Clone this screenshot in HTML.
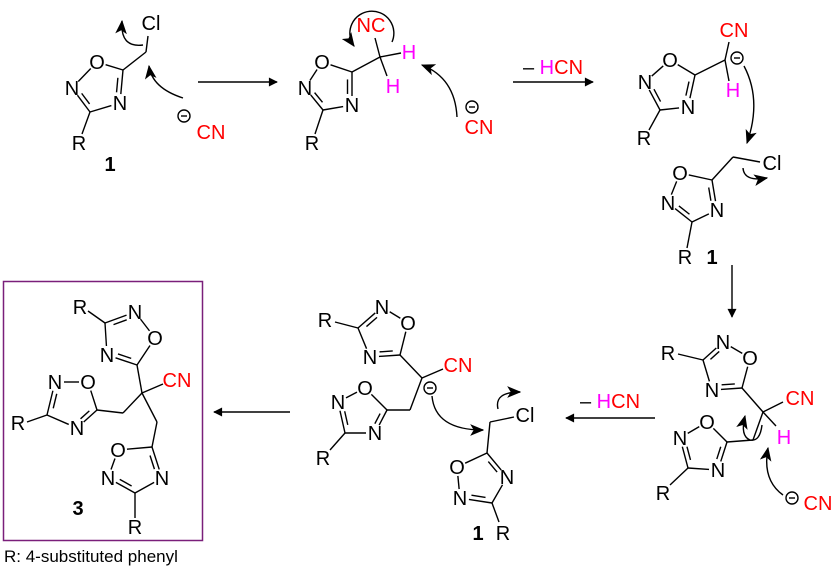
<!DOCTYPE html>
<html><head><meta charset="utf-8">
<style>
html,body{margin:0;padding:0;background:#fff;}
svg{display:block;}
text{font-family:"Liberation Sans",Arial,sans-serif;font-size:20px;text-anchor:middle;}
.a{fill:#000;}
.r{fill:#f00;}
.m{fill:#f0f;}
.b{font-weight:bold;}
</style></head>
<body>
<svg id="s" width="834" height="582" viewBox="0 0 834 582" xmlns="http://www.w3.org/2000/svg">
<defs>
<marker id="ah" viewBox="0 0 10 10" refX="9" refY="5" markerWidth="10" markerHeight="9" markerUnits="userSpaceOnUse" orient="auto"><path d="M0,0 L10,5 L0,10 z" fill="#000"/></marker>
<marker id="ch" viewBox="0 0 12 10" refX="11" refY="5" markerWidth="14" markerHeight="12" markerUnits="userSpaceOnUse" orient="auto"><path d="M0,0 L12,5 L0,10 L3,5 z" fill="#000"/></marker>
</defs>
<g id="bonds" stroke="#000" stroke-width="1.4" fill="none"></g>
<g stroke="#000" stroke-width="1.4" fill="none">
<line x1="198" y1="82" x2="277" y2="82" marker-end="url(#ah)"/>
<line x1="513" y1="82" x2="593" y2="82" marker-end="url(#ah)"/>
<line x1="732" y1="265" x2="732" y2="317" marker-end="url(#ah)"/>
<line x1="655" y1="418" x2="566" y2="418" marker-end="url(#ah)"/>
<line x1="290" y1="412" x2="214" y2="412" marker-end="url(#ah)"/>
<path d="M183,98 Q152,88 149,66" marker-end="url(#ch)"/>
<path d="M143,45 Q120,48 122,21" marker-end="url(#ch)"/>
<path d="M392,42 A22,22 0 1 0 354,46" marker-end="url(#ch)"/>
<path d="M457,117 Q455,78 422,65" marker-end="url(#ch)"/>
<path d="M744,66 Q762,100 747,143" marker-end="url(#ch)"/>
<path d="M743,168 Q744,182 767,178" marker-end="url(#ch)"/>
<path d="M432,396 Q435,430 483,430" marker-end="url(#ch)"/>
<path d="M498,409 Q494,392 520,392" marker-end="url(#ch)"/>
<path d="M783,495 Q762,480 768,448" marker-end="url(#ch)"/>
<path d="M762,425 Q760,442 750,440 Q740,436 745,416" marker-end="url(#ch)"/>
<circle cx="184" cy="116" r="6"/><line x1="181" y1="116" x2="187" y2="116"/>
<circle cx="472" cy="107" r="6"/><line x1="469" y1="107" x2="475" y2="107"/>
<circle cx="737" cy="58" r="6"/><line x1="734" y1="58" x2="740" y2="58"/>
<circle cx="792" cy="498" r="6"/><line x1="789" y1="498" x2="795" y2="498"/>
<circle cx="430" cy="388" r="6"/><line x1="427" y1="388" x2="433" y2="388"/>
</g>
<rect x="3.5" y="281.5" width="199" height="259" fill="none" stroke="#7a1f7a" stroke-width="1.5"/>
<g id="labels">
<text class="a" x="97" y="69">O</text><text class="a" x="120" y="110">N</text><text class="a" x="72" y="95">N</text>
<text class="a" x="151" y="30">Cl</text><text class="a" x="79" y="150">R</text><text class="a b" x="110" y="171">1</text>
<text class="r" x="211" y="139">CN</text>
<text class="a" x="322" y="69">O</text><text class="a" x="352" y="112">N</text><text class="a" x="305" y="95">N</text>
<text class="a" x="312" y="150">R</text>
<text class="r" x="371" y="32">NC</text>
<text class="m" x="409" y="59">H</text><text class="m" x="393" y="93">H</text>
<text class="r" x="479" y="134">CN</text>
<text x="553" y="74"><tspan fill="#000">– </tspan><tspan fill="#f0f">H</tspan><tspan fill="#f00">CN</tspan></text>
<text class="a" x="670" y="67">O</text><text class="a" x="688" y="114">N</text><text class="a" x="645" y="89">N</text>
<text class="a" x="644" y="145">R</text>
<text class="r" x="734" y="37">CN</text><text class="m" x="733" y="97">H</text>
<text class="a" x="680" y="180">O</text><text class="a" x="717" y="217">N</text><text class="a" x="668" y="210">N</text>
<text class="a" x="772" y="170">Cl</text><text class="a" x="685" y="264">R</text><text class="a b" x="712" y="264">1</text>
<text class="a" x="723" y="349">N</text><text class="a" x="750" y="365">O</text><text class="a" x="712" y="397">N</text>
<text class="a" x="668" y="360">R</text>
<text class="r" x="800" y="405">CN</text><text class="m" x="784" y="444">H</text>
<text class="a" x="707" y="429">O</text><text class="a" x="718" y="477">N</text><text class="a" x="680" y="445">N</text>
<text class="a" x="663" y="500">R</text>
<text class="r" x="818" y="510">CN</text>
<text x="610" y="408"><tspan fill="#000">– </tspan><tspan fill="#f0f">H</tspan><tspan fill="#f00">CN</tspan></text>
<text class="a" x="382" y="314">N</text><text class="a" x="408" y="330">O</text><text class="a" x="370" y="364">N</text>
<text class="a" x="325" y="327">R</text>
<text class="r" x="458" y="372">CN</text>
<text class="a" x="365" y="395">O</text><text class="a" x="375" y="440">N</text><text class="a" x="338" y="409">N</text>
<text class="a" x="323" y="465">R</text>
<text class="a" x="525" y="422">Cl</text>
<text class="a" x="457" y="474">O</text><text class="a" x="507" y="484">N</text><text class="a" x="460" y="505">N</text>
<text class="a b" x="478" y="540">1</text><text class="a" x="503" y="540">R</text>
<text class="a" x="135" y="319">N</text><text class="a" x="155" y="345">O</text><text class="a" x="107" y="362">N</text>
<text class="a" x="80" y="314">R</text>
<text class="r" x="177" y="387">CN</text>
<text class="a" x="55" y="389">N</text><text class="a" x="88" y="389">O</text><text class="a" x="77" y="435">N</text>
<text class="a" x="18" y="430">R</text>
<text class="a" x="118" y="457">O</text><text class="a" x="108" y="485">N</text><text class="a" x="162" y="485">N</text>
<text class="a" x="135" y="534">R</text><text class="a b" x="78" y="515">3</text>
<text x="4" y="562" style="text-anchor:start;font-size:17px">R: 4-substituted phenyl</text>
</g>
</svg>
<script>
(function(){
var g=document.getElementById('bonds');
function L(a,b,c,d){var l=document.createElementNS('http://www.w3.org/2000/svg','line');l.setAttribute('x1',a);l.setAttribute('y1',b);l.setAttribute('x2',c);l.setAttribute('y2',d);g.appendChild(l);}
function T(a,b,t1,t2){var dx=b[0]-a[0],dy=b[1]-a[1],d=Math.sqrt(dx*dx+dy*dy);var ux=dx/d,uy=dy/d;
 L(a[0]+ux*t1,a[1]+uy*t1,b[0]-ux*t2,b[1]-uy*t2);}
var rings=[
[[97,62],[123,70],[120,103],[90,112],[72,88]],
[[322,62],[352,72],[352,105],[323,110],[305,88]],
[[670,60],[695,75],[688,107],[660,110],[645,82]],
[[680,173],[712,180],[717,210],[692,222],[668,203]],
[[750,358],[742,388],[712,390],[703,360],[723,342]],
[[707,422],[727,442],[718,470],[688,468],[680,438]],
[[408,323],[400,355],[370,357],[358,328],[382,307]],
[[365,388],[387,410],[375,433],[345,433],[338,402]],
[[457,467],[487,453],[507,477],[492,503],[460,498]],
[[155,338],[137,365],[107,355],[105,323],[135,312]],
[[88,382],[97,410],[77,428],[47,415],[55,382]],
[[118,450],[152,447],[162,478],[135,493],[108,478]]
];
var lab=[1,0,1,0,1];
rings.forEach(function(r){
 var cx=0,cy=0;r.forEach(function(p){cx+=p[0]/5;cy+=p[1]/5;});
 for(var i=0;i<5;i++){var j=(i+1)%5,a=r[i],b=r[j];T(a,b,lab[i]?9:0,lab[j]?9:0);
  if(i==1||i==3){var x1=a[0]+(b[0]-a[0])*0.22,y1=a[1]+(b[1]-a[1])*0.22,x2=a[0]+(b[0]-a[0])*0.66,y2=a[1]+(b[1]-a[1])*0.66;
   var mx=(x1+x2)/2,my=(y1+y2)/2,dx=cx-mx,dy=cy-my,d=Math.sqrt(dx*dx+dy*dy);
   var ox=dx/d*4.5,oy=dy/d*4.5;L(x1+ox,y1+oy,x2+ox,y2+oy);}
 }
});
var s=[
[123,70,146,52],[146,52,148,36],[90,112,82,134],
[352,72,380,57],[380,57,375,38],[380,57,401,53],[380,57,387,76],[323,110,315,134],
[695,75,725,60],[725,60,729,42],[725,60,729,81],[660,110,649,130],
[712,180,733,157],[733,157,760,162],[692,222,687,248],
[703,360,678,354],[742,388,763,412],[763,412,783,402],[763,412,776,426],[763,412,753,440],[753,440,727,442],[688,468,670,485],
[358,328,335,322],[400,355,422,378],[422,378,443,369],[422,378,410,410],[410,410,387,410],[345,433,330,450],
[487,453,490,422],[490,422,514,417],[492,503,499,522],
[105,323,88,311],[137,365,142,393],[142,393,163,384],[142,393,123,413],[123,413,97,410],[142,393,157,422],[157,422,152,447],[47,415,27,422],[135,493,135,518]
];
s.forEach(function(b){L(b[0],b[1],b[2],b[3]);});
})();
</script>
</body></html>
